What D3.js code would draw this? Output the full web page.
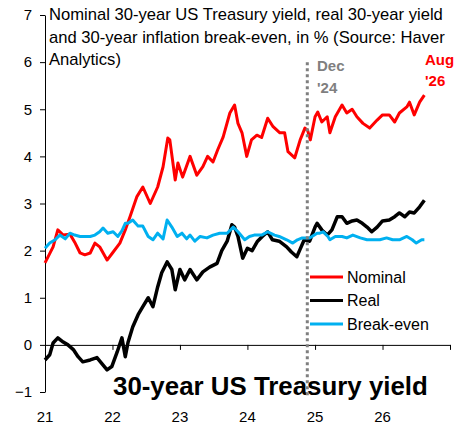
<!DOCTYPE html>
<html>
<head>
<meta charset="utf-8">
<script src="https://cdn.jsdelivr.net/npm/d3@7"></script>
<style>
body { margin: 0; background: #fff; }
text { font-family: "Liberation Sans", Arial, sans-serif; }
</style>
</head>
<body>
<div id="chart"></div>
<script>
var w = 461;
var h = 432;

// decimal years and values, in %
var nomT = [2021.00,2021.12,2021.19,2021.27,2021.37,2021.44,2021.52,2021.59,2021.67,2021.74,2021.81,2021.92,
            2022.00,2022.11,2022.19,2022.26,2022.36,2022.45,2022.56,2022.67,2022.75,2022.82,2022.85,2022.93,2022.97,
            2023.04,2023.15,2023.25,2023.34,2023.41,2023.49,2023.56,2023.64,2023.74,2023.81,2023.86,2023.92,2023.99,
            2024.06,2024.14,2024.21,2024.30,2024.38,2024.48,2024.55,2024.60,2024.70,2024.78,2024.85,2024.89,2024.93,
            2025.00,2025.04,2025.10,2025.18,2025.22,2025.30,2025.40,2025.47,2025.55,2025.62,2025.71,2025.81,2025.92,
            2026.00,2026.10,2026.18,2026.25,2026.36,2026.40,2026.47,2026.55,2026.62];
var nomV = [1.74,2.08,2.44,2.33,2.35,2.18,1.95,1.91,1.95,2.16,2.08,1.80,
            1.95,2.16,2.44,2.72,3.14,3.35,3.00,3.35,3.78,4.39,4.35,3.50,3.86,
            3.56,4.00,3.60,3.78,4.00,3.88,4.14,4.41,4.92,5.09,4.70,4.50,4.00,
            4.35,4.45,4.40,4.81,4.63,4.50,4.50,4.10,3.97,4.35,4.60,4.55,4.35,
            4.84,4.94,4.73,4.84,4.50,4.84,5.09,4.92,5.00,4.84,4.70,4.60,4.77,
            4.88,4.88,4.73,4.92,5.05,5.15,4.88,5.15,5.30];

var realT = [2021.00,2021.07,2021.12,2021.19,2021.27,2021.34,2021.42,2021.49,2021.56,2021.67,2021.77,2021.84,2021.92,2021.99,
             2022.07,2022.14,2022.19,2022.23,2022.30,2022.38,2022.45,2022.53,2022.60,2022.67,2022.73,2022.81,2022.88,2022.93,
             2023.00,2023.07,2023.15,2023.25,2023.34,2023.44,2023.55,2023.62,2023.70,2023.77,2023.81,2023.86,2023.93,
             2024.00,2024.07,2024.15,2024.22,2024.30,2024.37,2024.47,2024.58,2024.65,2024.73,2024.77,2024.84,2024.92,
             2025.00,2025.03,2025.10,2025.18,2025.25,2025.33,2025.40,2025.47,2025.55,2025.62,2025.70,2025.77,2025.84,2025.92,
             2026.00,2026.10,2026.18,2026.25,2026.33,2026.40,2026.47,2026.55,2026.62];
var realV = [-0.32,-0.21,0.04,0.15,0.06,0.00,-0.10,-0.25,-0.36,-0.32,-0.27,-0.39,-0.53,-0.46,
             -0.15,0.15,-0.25,0.05,0.38,0.64,0.81,1.00,0.81,1.23,1.53,1.76,1.60,1.17,
             1.60,1.38,1.60,1.38,1.55,1.65,1.73,2.00,2.20,2.55,2.50,2.30,1.84,
             2.05,2.00,2.20,2.30,2.40,2.23,2.20,2.08,1.97,1.87,2.00,2.23,2.20,
             2.50,2.58,2.44,2.33,2.44,2.72,2.72,2.58,2.63,2.65,2.58,2.50,2.40,2.50,
             2.63,2.65,2.72,2.80,2.72,2.82,2.80,2.93,3.07];

var beT = [2021.00,2021.07,2021.15,2021.22,2021.30,2021.37,2021.44,2021.52,2021.59,2021.67,2021.74,2021.81,2021.86,2021.93,
           2022.01,2022.08,2022.14,2022.19,2022.23,2022.30,2022.38,2022.45,2022.53,2022.60,2022.67,2022.75,2022.81,2022.88,2022.96,
           2023.03,2023.10,2023.15,2023.22,2023.30,2023.40,2023.49,2023.59,2023.70,2023.79,2023.86,2023.96,
           2024.03,2024.10,2024.21,2024.30,2024.40,2024.47,2024.58,2024.67,2024.74,2024.81,2024.92,
           2025.03,2025.07,2025.12,2025.19,2025.22,2025.30,2025.40,2025.47,2025.56,2025.67,2025.77,2025.86,2025.96,
           2026.06,2026.15,2026.25,2026.36,2026.44,2026.50,2026.58,2026.62];
var beV = [2.05,2.16,2.23,2.33,2.25,2.37,2.33,2.30,2.30,2.30,2.33,2.40,2.48,2.37,
           2.40,2.30,2.42,2.58,2.58,2.65,2.52,2.52,2.30,2.23,2.37,2.25,2.65,2.50,2.30,
           2.37,2.25,2.33,2.20,2.30,2.27,2.33,2.37,2.37,2.50,2.40,2.23,
           2.30,2.33,2.33,2.40,2.33,2.30,2.23,2.16,2.23,2.27,2.27,
           2.37,2.37,2.40,2.30,2.23,2.30,2.30,2.27,2.33,2.27,2.23,2.23,2.23,
           2.27,2.23,2.23,2.30,2.23,2.16,2.23,2.23];

var yTicks = [-1, 0, 1, 2, 3, 4, 5, 6, 7];
var xYears = [2021, 2022, 2023, 2024, 2025, 2026, 2027];
var xLabels = ["21", "22", "23", "24", "25", "26"];
var titleLines = ["Nominal 30-year US Treasury yield, real 30-year yield",
                  "and 30-year inflation break-even, in % (Source: Haver",
                  "Analytics)"];
var seriesNames = ["Nominal", "Real", "Break-even"];
var seriesColors = ["#ff0000", "#000000", "#00b0f0"];
var markerDate = new Date(2024, 10, 20);

function toDate(t) {
  var yr = Math.floor(t);
  var d0 = new Date(yr, 0, 1), d1 = new Date(yr + 1, 0, 1);
  return new Date(+d0 + (t - yr) * (d1 - d0));
}

function pairs(ts, vs) {
  return ts.map(function(t, i) { return {date: toDate(t), value: vs[i]}; });
}

var series = [pairs(nomT, nomV), pairs(realT, realV), pairs(beT, beV)];

var xScale = d3.scaleTime()
              .domain([new Date(2021, 0, 1), new Date(2027, 0, 1)])
              .range([45, 450]);
var yScale = d3.scaleLinear()
              .domain([-1, 7])
              .range([392, 15]);

var svg = d3.select("#chart")
            .append("svg")
            .attr("width", w)
            .attr("height", h);

// fit a text element to a target width by scaling its font size
function fitWidth(sel, target) {
  var len = sel.node().getComputedTextLength();
  var fs = parseFloat(sel.attr("font-size"));
  sel.attr("font-size", (fs * target / len).toFixed(2));
}

// big label, drawn first so the dotted line runs over it
var big = svg.append("text")
  .attr("x", 113)
  .attr("y", 395)
  .attr("font-size", 26)
  .attr("font-weight", "bold")
  .attr("fill", "#000")
  .text("30-year US Treasury yield");
fitWidth(big, 315);

// y axis
var yAxis = svg.append("g")
  .attr("transform", "translate(45,0)")
  .call(d3.axisLeft(yScale).tickValues(yTicks).tickSize(5).tickSizeOuter(0).tickFormat(d3.format("d")));
yAxis.selectAll("text").attr("font-size", 15).attr("fill", "#000").attr("x", -13)
  .style("font-family", "'Liberation Sans', Arial, sans-serif");
yAxis.selectAll("line, path").attr("stroke", "#000");

// x axis sits on the zero line, labels at the bottom
var xAxis = svg.append("g")
  .attr("transform", "translate(0," + yScale(0) + ")")
  .call(d3.axisBottom(xScale).tickValues(xYears.map(function(d) { return new Date(d, 0, 1); }))
        .tickSize(5).tickSizeOuter(0).tickFormat(""));
xAxis.selectAll("line, path").attr("stroke", "#000");

svg.selectAll(".xlab")
  .data(xLabels)
  .enter()
  .append("text")
  .attr("class", "xlab")
  .attr("x", function(d, i) { return xScale(new Date(xYears[i], 0, 1)); })
  .attr("y", 422)
  .attr("text-anchor", "middle")
  .attr("font-size", 15)
  .text(function(d) { return d; });

// title
var title = svg.selectAll(".title")
  .data(titleLines)
  .enter()
  .append("text")
  .attr("class", "title")
  .attr("x", 49)
  .attr("y", function(d, i) { return 20 + i * 22.5; })
  .attr("font-size", 16)
  .attr("fill", "#000")
  .text(function(d) { return d; });
var tlen = title.filter(function(d, i) { return i === 0; }).node().getComputedTextLength();
title.attr("font-size", (16 * 394 / tlen).toFixed(2));

// lines
var line = d3.line()
  .x(function(d) { return xScale(d.date); })
  .y(function(d) { return yScale(d.value); });

svg.selectAll(".series")
  .data(series)
  .enter()
  .append("path")
  .attr("class", "series")
  .attr("d", line)
  .attr("fill", "none")
  .attr("stroke", function(d, i) { return seriesColors[i]; })
  .attr("stroke-width", function(d, i) { return i === 1 ? 3.5 : 3; })
  .attr("stroke-linejoin", "round");

// dotted marker
svg.append("line")
  .attr("x1", xScale(markerDate))
  .attr("x2", xScale(markerDate))
  .attr("y1", yScale(6))
  .attr("y2", 397)
  .attr("stroke", "#7f7f7f")
  .attr("stroke-width", 3)
  .attr("stroke-dasharray", "3,3");

svg.append("text").attr("x", 317).attr("y", 71).attr("font-size", 15).attr("font-weight", "bold")
  .attr("fill", "#7f7f7f").text("Dec");
svg.append("text").attr("x", 317).attr("y", 93).attr("font-size", 15).attr("font-weight", "bold")
  .attr("fill", "#7f7f7f").text("'24");
svg.append("text").attr("x", 425).attr("y", 65).attr("font-size", 15).attr("font-weight", "bold")
  .attr("fill", "#ff0000").text("Aug");
svg.append("text").attr("x", 425).attr("y", 86).attr("font-size", 15).attr("font-weight", "bold")
  .attr("fill", "#ff0000").text("'26");

// legend
var legend = svg.selectAll(".legend")
  .data(seriesNames)
  .enter()
  .append("g")
  .attr("class", "legend")
  .attr("transform", function(d, i) { return "translate(310," + (277 + i * 23.5) + ")"; });
legend.append("line")
  .attr("x1", 0).attr("x2", 33)
  .attr("stroke", function(d, i) { return seriesColors[i]; })
  .attr("stroke-width", 3);
legend.append("text")
  .attr("x", 37)
  .attr("y", 5.5)
  .attr("font-size", 16)
  .text(function(d) { return d; });
</script>
</body>
</html>
